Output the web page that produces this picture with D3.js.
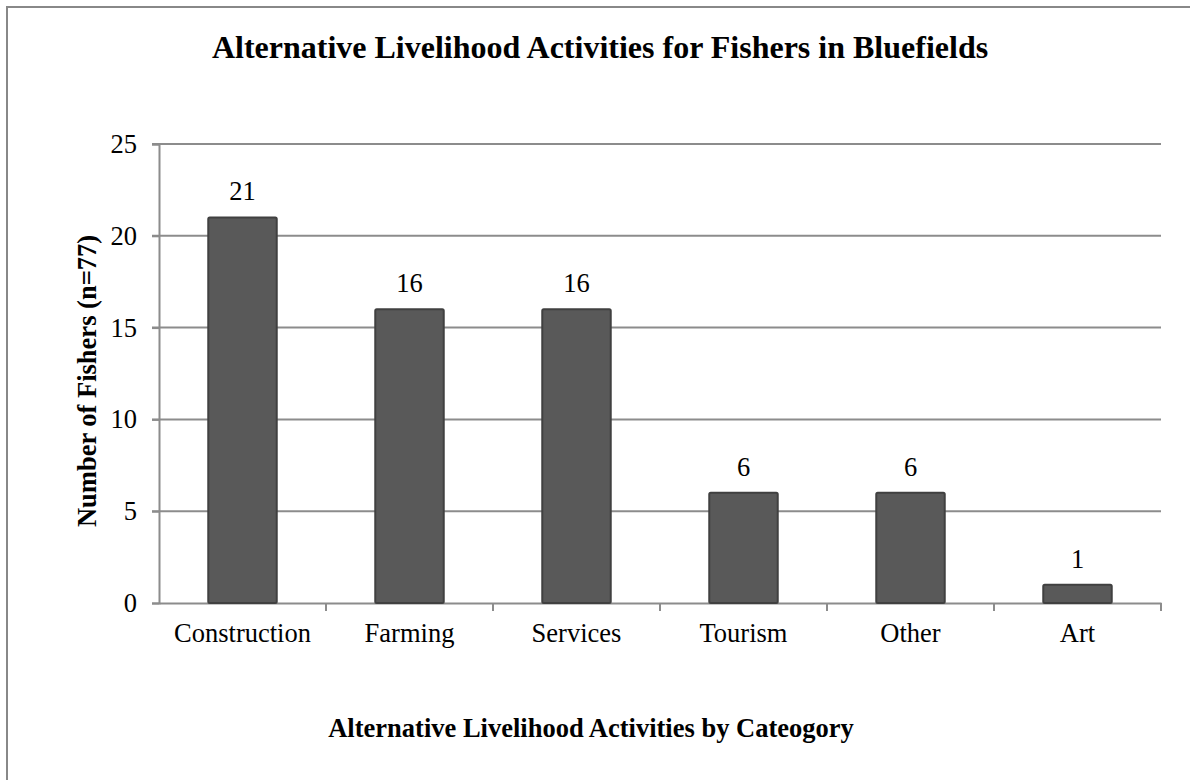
<!DOCTYPE html>
<html>
<head>
<meta charset="utf-8">
<script src="https://cdn.jsdelivr.net/npm/d3@7"></script>
<style>
  body { margin: 0; background: #fff; }
  text { font-family: "Liberation Serif", "Times New Roman", serif; fill: #000; }
</style>
</head>
<body>
<svg width="1190" height="780"></svg>
<script>
// data
var categories = ["Construction", "Farming", "Services", "Tourism", "Other", "Art"];
var fishers = [21, 16, 16, 6, 6, 1];
var yTicks = [0, 5, 10, 15, 20, 25];

var svg = d3.select("svg");

// outer frame (cut off at right/bottom like the original)
svg.append("rect")
  .attr("x", 7).attr("y", 7)
  .attr("width", 1200).attr("height", 800)
  .style("fill", "none")
  .style("stroke", "#888")
  .style("stroke-width", 2);

var plotL = 159, plotR = 1161, plotT = 144, plotB = 603;

var x = d3.scaleBand()
  .domain(categories)
  .range([plotL, plotR]);

var y = d3.scaleLinear()
  .domain([0, 25])
  .range([plotB, plotT]);

// gridlines
svg.append("g")
  .selectAll("line")
  .data(yTicks.filter(function(d){ return d > 0; }))
  .enter().append("line")
  .attr("x1", plotL - 7)
  .attr("x2", plotR)
  .attr("y1", function(d){ return y(d); })
  .attr("y2", function(d){ return y(d); })
  .style("stroke", "#8c8c8c")
  .style("stroke-width", 2);

// y axis
var yAxis = svg.append("g")
  .attr("transform", "translate(" + plotL + ",0)")
  .call(d3.axisLeft(y).tickValues(yTicks).tickSize(7).tickPadding(15));
yAxis.select(".domain").style("stroke", "#8c8c8c").style("stroke-width", 2);
yAxis.selectAll(".tick line").style("stroke", "#8c8c8c").style("stroke-width", 2);
yAxis.selectAll("text").style("font-size", "26.5px").attr("fill", "#000")
  .style("font-family", "Liberation Serif");

// x axis
var xAxis = svg.append("g")
  .attr("transform", "translate(0," + plotB + ")")
  .call(d3.axisBottom(x).tickSize(0).tickPadding(20));
xAxis.select(".domain").style("stroke", "#8c8c8c").style("stroke-width", 2);
xAxis.selectAll("text").style("font-size", "26.5px").attr("fill", "#000")
  .style("font-family", "Liberation Serif");

// category separators
svg.append("g")
  .selectAll("line")
  .data(categories)
  .enter().append("line")
  .attr("x1", function(d){ return x(d) + x.bandwidth(); })
  .attr("x2", function(d){ return x(d) + x.bandwidth(); })
  .attr("y1", plotB)
  .attr("y2", plotB + 8)
  .style("stroke", "#8c8c8c")
  .style("stroke-width", 2);

// bars
var bw = x.bandwidth() * 0.41;
svg.append("g")
  .selectAll("rect")
  .data(fishers)
  .enter().append("rect")
  .attr("x", function(d, i){ return x(categories[i]) + (x.bandwidth() - bw) / 2; })
  .attr("y", function(d){ return y(d); })
  .attr("width", bw)
  .attr("height", function(d){ return y(0) - y(d); })
  .attr("rx", 1.5)
  .style("fill", "#595959")
  .style("stroke", "#404040")
  .style("stroke-width", 2);

// value labels
svg.append("g")
  .selectAll("text")
  .data(fishers)
  .enter().append("text")
  .attr("x", function(d, i){ return x(categories[i]) + x.bandwidth() / 2; })
  .attr("y", function(d){ return y(d) - 17; })
  .attr("text-anchor", "middle")
  .style("font-size", "26.5px")
  .text(function(d){ return d; });

// titles
svg.append("text")
  .attr("x", 600).attr("y", 58)
  .attr("text-anchor", "middle")
  .style("font-size", "32px")
  .style("font-weight", "bold")
  .text("Alternative Livelihood Activities for Fishers in Bluefields");

svg.append("text")
  .attr("x", 591).attr("y", 737)
  .attr("text-anchor", "middle")
  .style("font-size", "26.5px")
  .style("font-weight", "bold")
  .text("Alternative Livelihood Activities by Cateogory");

svg.append("text")
  .attr("transform", "translate(96,381) rotate(-90)")
  .attr("text-anchor", "middle")
  .style("font-size", "26.5px")
  .style("font-weight", "bold")
  .text("Number of Fishers (n=77)");
</script>
</body>
</html>
